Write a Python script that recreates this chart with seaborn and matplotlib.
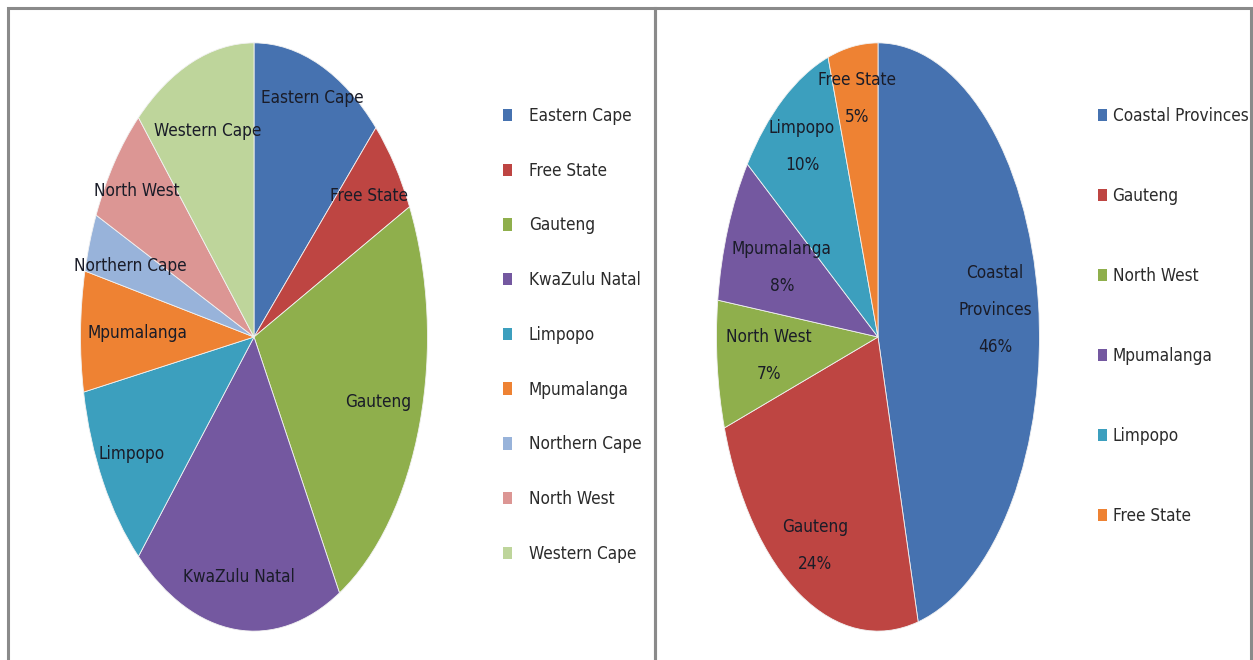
import matplotlib
matplotlib.use("Agg")
import matplotlib.pyplot as plt
import seaborn as sns
from matplotlib.patches import Rectangle
import numpy as np

# Share of provinces (left) and grouped regions (right)
provinces = ["Eastern Cape", "Free State", "Gauteng", "KwaZulu Natal", "Limpopo",
             "Mpumalanga", "Northern Cape", "North West", "Western Cape"]
province_share = [12.4, 5.3, 24.1, 19.8, 10.4, 6.6, 3.2, 6.6, 11.6]

regions = ["Coastal Provinces", "Gauteng", "North West", "Mpumalanga", "Limpopo", "Free State"]
region_share = [46, 24, 7, 8, 10, 5]

province_colors = ["#4672B0", "#BE4542", "#8FAF4C", "#7458A0", "#3C9FBE",
                   "#EE8233", "#98B3DA", "#DC9694", "#BED59B"]
region_colors = ["#4672B0", "#BE4542", "#8FAF4C", "#7458A0", "#3C9FBE", "#EE8233"]

# label radius (fraction of the pie radius) for each slice
province_label_r = [0.88, 0.82, 0.75, 0.82, 0.81, 0.67, 0.75, 0.84, 0.75]
region_label_r = [0.73, 0.81, 0.68, 0.64, 0.80, 0.82]

sns.set_theme(style="white")
plt.rcParams["font.family"] = ["Liberation Sans Narrow", "DejaVu Sans"]
plt.rcParams["font.stretch"] = "condensed"

W, H = 1253, 660
fig = plt.figure(figsize=(W / 100, H / 100), dpi=100)
fig.patch.set_facecolor("white")

def px_rect(x0, y0, x1, y1):
    return [x0 / W, 1 - y1 / H, (x1 - x0) / W, (y1 - y0) / H]

# panel frames
for x0, x1, ec in [(8, 655, "#8a8a8a"), (655, 1251, "#8a8a8a")]:
    fig.patches.append(Rectangle((x0 / W, -0.05), (x1 - x0) / W, 1.05 - 7.5 / H,
                                 transform=fig.transFigure, fill=False,
                                 edgecolor=ec, linewidth=2.2, zorder=0))

LABEL_COLOR = "#1a1c28"
TEXT_COLOR = "#2b2b2b"
FS = 12.3

def draw_pie(rect, values, colors, label_r, texts):
    ax = fig.add_axes(rect)
    pal = sns.color_palette(colors)
    wedges, _ = ax.pie(values, colors=pal, startangle=90, counterclock=False,
                       radius=1, wedgeprops=dict(linewidth=0.6, edgecolor="#f2f2f2"))
    ax.set_xlim(-1.003, 1.003)
    ax.set_ylim(-1.003, 1.003)
    ax.set_aspect("auto")
    ax.axis("off")
    for w, r, t in zip(wedges, label_r, texts):
        mid = np.deg2rad((w.theta1 + w.theta2) / 2)
        ax.text(r * np.cos(mid), r * np.sin(mid), t, ha="center", va="center",
                fontsize=FS, color=LABEL_COLOR, linespacing=2.35)
    return wedges

w1 = draw_pie(px_rect(80, 42, 428, 632), province_share, province_colors,
              province_label_r, provinces)

region_texts = []
for name, v in zip(regions, region_share):
    if name == "Coastal Provinces":
        name = "Coastal\nProvinces"
    region_texts.append(f"{name}\n{v}%")
w2 = draw_pie(px_rect(716, 42, 1040, 632), region_share, region_colors,
              region_label_r, region_texts)

leg1 = fig.legend(w1, provinces, loc="upper left",
                  bbox_to_anchor=(503 / W, 1 - 107 / H), frameon=False,
                  fontsize=FS, labelcolor=TEXT_COLOR, handlelength=0.5,
                  handleheight=0.75, handletextpad=1.0, labelspacing=2.15,
                  borderpad=0, borderaxespad=0)
leg2 = fig.legend(w2, regions, loc="upper left",
                  bbox_to_anchor=(1098 / W, 1 - 107 / H), frameon=False,
                  fontsize=FS, labelcolor=TEXT_COLOR, handlelength=0.5,
                  handleheight=0.75, handletextpad=0.35, labelspacing=3.63,
                  borderpad=0, borderaxespad=0)
for leg in (leg1, leg2):
    for h in leg.legend_handles:
        h.set_linewidth(0)

fig.savefig("out.png", dpi=100, facecolor="white")
